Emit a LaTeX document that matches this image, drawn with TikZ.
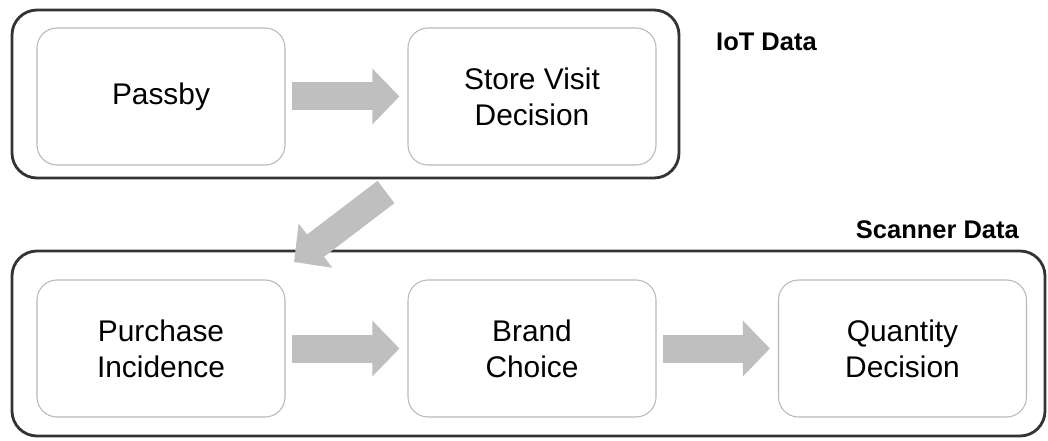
\documentclass[tikz,border=0pt]{standalone}
\usepackage{fontspec}
\setmainfont{Liberation Sans}
\usetikzlibrary{arrows.meta}

\tikzset{
    stage/.style={draw=gray!55, line width=0.6pt, rounded corners=0.4cm,
        minimum width=4.96cm, minimum height=2.74cm, align=center,
        font=\fontsize{17}{20.5}\selectfont},
    group/.style={draw=black!80, line width=1.6pt, rounded corners=0.5cm},
    bigarrow/.style={gray!50, line width=0.56cm,
        -{Triangle[width=1.08cm,length=0.54cm]},
        shorten <=0.12cm, shorten >=0.16cm},
    tag/.style={font=\bfseries\fontsize{14.5}{17}\selectfont}
}

\begin{document}
\begin{tikzpicture}
    \useasboundingbox (0,0) rectangle (20.96,8.8);

    % IoT part
    \draw[group] (0.24,5.24) rectangle (13.58,8.6);
    \node[stage] (passby) at (3.22,6.87) {Passby};
    \node[stage] (visit) at (10.64,6.87) {Store Visit\\Decision};
    \node[tag, anchor=west] (iot) at (14.2,7.96) {IoT Data};
    \draw[bigarrow] (passby) -- (visit);

    % Scanner part
    \draw[group] (0.24,0.08) rectangle (20.9,3.78);
    \node[stage] (purchase) at (3.22,1.83) {Purchase\\Incidence};
    \node[stage] (brand) at (10.64,1.83) {Brand\\Choice};
    \node[stage] (quantity) at (18.05,1.83) {Quantity\\Decision};
    \node[tag, anchor=east] (scanner) at (20.5,4.2) {Scanner Data};
    \draw[bigarrow] (purchase) -- (brand);
    \draw[bigarrow] (brand) -- (quantity);

    % from visit to purchase
    \coordinate (visitout) at (7.72,4.96);
    \coordinate (shopin) at (5.88,3.56);
    \draw[bigarrow, shorten <=0pt, shorten >=0pt] (visitout) -- (shopin);
\end{tikzpicture}
\end{document}
